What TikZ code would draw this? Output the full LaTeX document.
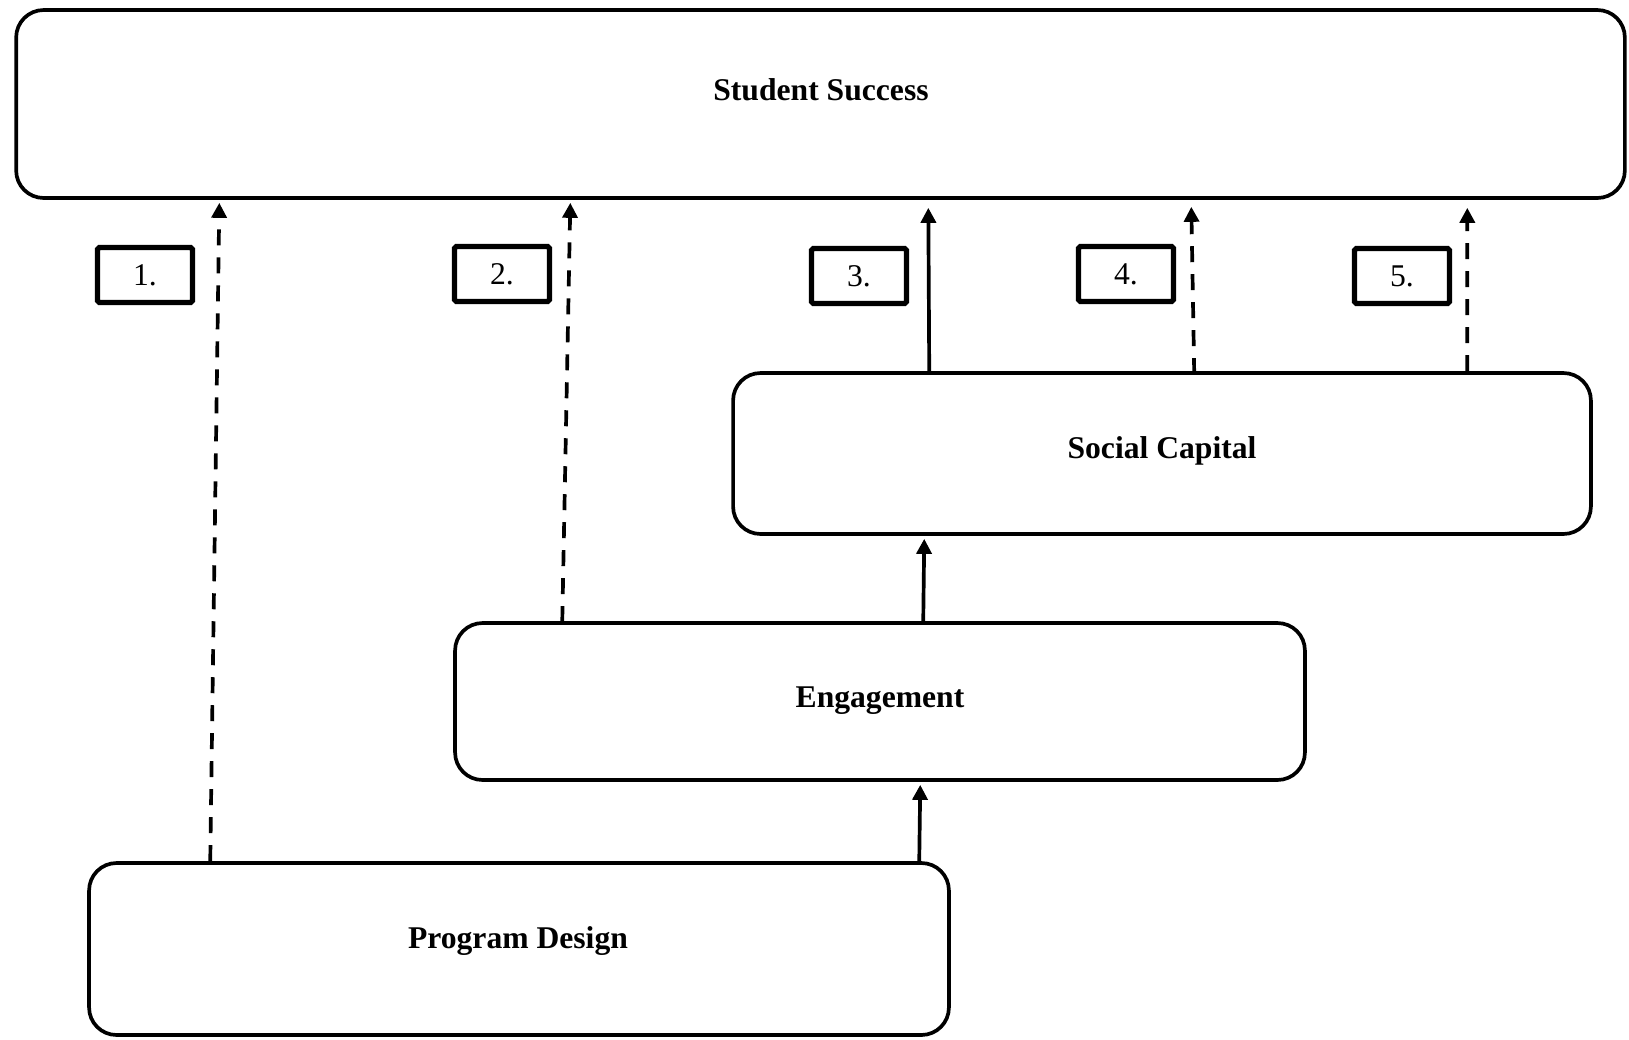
\documentclass[tikz,border=0pt]{standalone}
\usepackage{fontspec}
\setmainfont{Liberation Serif}
\usetikzlibrary{arrows.meta,calc}
\begin{document}
\begin{tikzpicture}[x=0.02cm,y=-0.02cm,
 bigbox/.style={draw, line width=2.1pt, rounded corners=0.55cm, inner sep=0pt},
 title/.style={font=\fontsize{18}{21}\selectfont\bfseries, inner sep=0pt, anchor=base},
 numbox/.style={draw, line width=3pt, rounded corners=1pt, minimum width=1.9cm, minimum height=1.1cm, inner sep=0pt, font=\fontsize{18}{21}\selectfont},
 conn/.style={line width=2.1pt, -{Triangle[length=0.3cm,width=0.3cm]}},
 dconn/.style={conn, dash pattern=on 0.32cm off 0.24cm}]
\useasboundingbox (0,0) rectangle (1629,1039);
% boxes
\node[bigbox, minimum width=32.18cm, minimum height=3.76cm] (ss) at (820.5,104) {};
\node[bigbox, minimum width=17.16cm, minimum height=3.22cm] (sc) at (1162,453.5) {};
\node[bigbox, minimum width=17cm, minimum height=3.14cm] (en) at (880,701.5) {};
\node[bigbox, minimum width=17.2cm, minimum height=3.44cm] (pd) at (519,949) {};
% titles
\node[title] (tss) at (821,100.5) {Student Success};
\node[title] (tsc) at (1162,458.5) {Social Capital};
\node[title] (ten) at (880,707) {Engagement};
\node[title] (tpd) at (518,948) {Program Design};
% number boxes
\node[numbox] (n1) at (145,275) {1.};
\node[numbox] (n2) at (502,274) {2.};
\node[numbox] (n3) at (859,276) {3.};
\node[numbox] (n4) at (1126,274) {4.};
\node[numbox] (n5) at (1402,276) {5.};
% connectors
\draw[dconn] ($(pd.north west)+(123,0)$) -- ($(ss.south west)+(205,3)$);
\draw[dconn] ($(en.north west)+(109,1)$) -- ($(ss.south west)+(556,3)$);
\draw[conn] ($(sc.north west)+(198,0)$) -- ($(ss.south west)+(914,8)$);
\draw[dconn] ($(sc.north west)+(463,3)$) -- ($(ss.south west)+(1177,7)$);
\draw[dconn] ($(sc.north west)+(736,0)$) -- ($(ss.south west)+(1453,8)$);
\draw[conn] ($(en.north west)+(470,0)$) -- ($(sc.south west)+(193,3)$);
\draw[conn] ($(pd.north west)+(832,0)$) -- ($(en.south west)+(467,3)$);
\end{tikzpicture}
\end{document}
